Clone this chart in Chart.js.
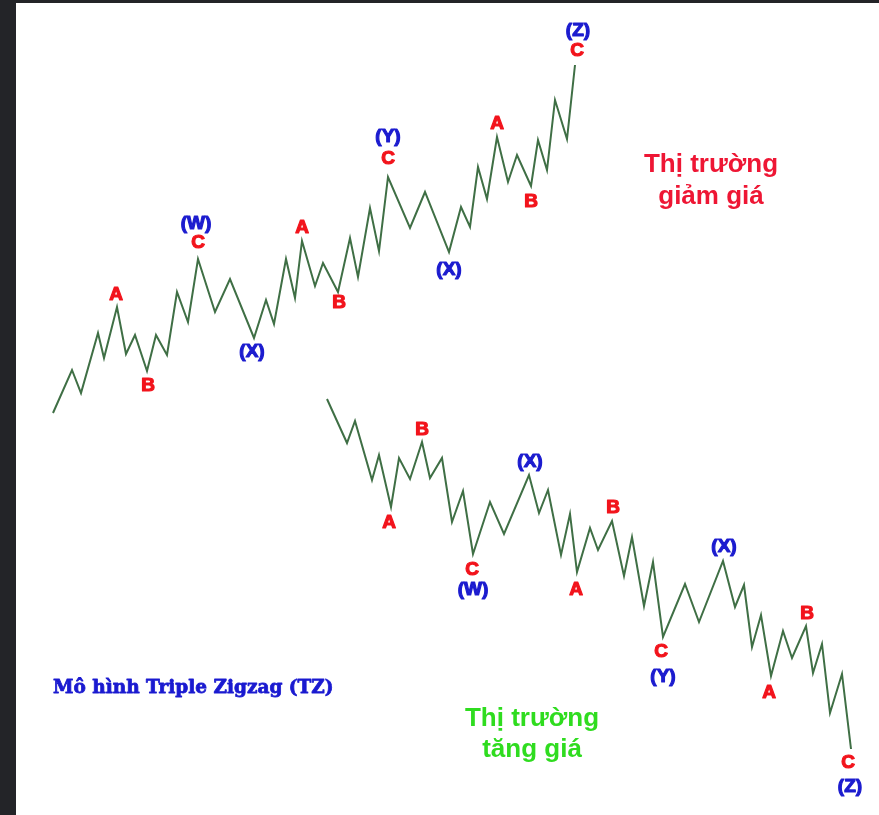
<!DOCTYPE html>
<html>
<head>
<meta charset="utf-8">
<script src="https://cdn.jsdelivr.net/npm/chart.js@4.4.1/dist/chart.umd.min.js"></script>
<style>
  html, body { margin: 0; padding: 0; background: #232428; }
  #wrap { position: absolute; left: 16px; top: 3px; width: 863px; height: 812px; background: #fff; }
</style>
</head>
<body>
<div id="wrap"><canvas id="wave-chart"></canvas></div>
<script>
// upper wave (bear market triple zigzag), x = time, y = price level
var upperX = [53,72,81,98,104,117,126,135,147,156,167,177,188,198,215,230,254,266,274,286,295,302,315,323,338,350,358,370,379,388,410,425,449,461,470,478,487,497,508,517,531,538,547,555,567,575];
var upperPrice = [402,445,422,482,457,508,461,480,444,480,460,523,493,556,503,536,477,515,491,556,517,574,529,552,523,577,538,607,564,638,587,623,563,608,588,648,616,678,633,660,629,675,645,715,676,750];

// lower wave (bull market triple zigzag)
var lowerX = [327,347,355,372,379,391,399,410,422,430,442,452,463,473,490,504,529,539,548,561,570,577,590,598,612,624,632,644,653,663,685,699,723,735,744,752,761,771,783,792,806,813,822,830,842,851];
var lowerPrice = [416,372,394,335,360,308,357,336,373,337,357,293,324,261,313,281,340,302,325,260,301,243,287,265,294,239,278,209,253,178,231,193,254,208,230,168,200,139,184,157,189,142,171,102,141,66];

// wave labels
var labelText = ["A","B","(W)","C","(X)","A","B","(Y)","C","(X)","A","B","(Z)","C",
                 "B","A","(X)","C","(W)","B","A","C","(Y)","(X)","B","A","C","(Z)"];
var labelX = [116,148,196,198,252,302,339,388,388,449,497,531,578,577,
              422,389,530,472,473,613,576,661,663,724,807,769,848,850];
var labelY = [520,429,591,572,463,587,512,678,656,545,691,613,784,764,
              385,292,353,245,225,307,225,163,138,268,201,122,52,28];

function toPoints(xs, ys) {
  return xs.map(function (x, i) { return {x: x, y: ys[i]}; });
}

var textPlugin = {
  id: 'waveText',
  afterDatasetsDraw: function (chart) {
    var ctx = chart.ctx, sx = chart.scales.x, sy = chart.scales.y;
    ctx.save();
    ctx.textAlign = 'center';
    ctx.textBaseline = 'middle';
    ctx.lineJoin = 'round';
    ctx.font = 'bold 19px "Liberation Sans", Arial, sans-serif';
    ctx.lineWidth = 1.2;
    labelText.forEach(function (t, i) {
      var c = t.charAt(0) === '(' ? '#1c1ccf' : '#f2141c';
      var px = sx.getPixelForValue(labelX[i]), py = sy.getPixelForValue(labelY[i]);
      ctx.fillStyle = c;
      ctx.strokeStyle = c;
      ctx.fillText(t, px, py);
      ctx.strokeText(t, px, py);
    });

    ctx.font = 'bold 26px "Liberation Sans", Arial, sans-serif';
    ctx.fillStyle = '#ee1634';
    ctx.fillText('Thị trường', sx.getPixelForValue(711), sy.getPixelForValue(650));
    ctx.fillText('giảm giá', sx.getPixelForValue(711), sy.getPixelForValue(618));

    ctx.fillStyle = '#2fdc1f';
    ctx.fillText('Thị trường', sx.getPixelForValue(532), sy.getPixelForValue(96));
    ctx.fillText('tăng giá', sx.getPixelForValue(532), sy.getPixelForValue(65));

    ctx.textAlign = 'left';
    ctx.font = 'bold 18.5px "DejaVu Serif", serif';
    ctx.fillStyle = '#1a1ad0';
    ctx.strokeStyle = '#1a1ad0';
    ctx.lineWidth = 0.8;
    ctx.fillText('Mô hình Triple Zigzag (TZ)', sx.getPixelForValue(53), sy.getPixelForValue(127));
    ctx.strokeText('Mô hình Triple Zigzag (TZ)', sx.getPixelForValue(53), sy.getPixelForValue(127));
    ctx.restore();
  }
};

new Chart(document.getElementById('wave-chart'), {
  type: 'scatter',
  data: {
    datasets: [
      {
        label: 'Upper',
        data: toPoints(upperX, upperPrice),
        showLine: true,
        borderColor: '#3f6f45',
        borderWidth: 2,
        pointRadius: 0,
        tension: 0
      },
      {
        label: 'Lower',
        data: toPoints(lowerX, lowerPrice),
        showLine: true,
        borderColor: '#3f6f45',
        borderWidth: 2,
        pointRadius: 0,
        tension: 0
      }
    ]
  },
  options: {
    responsive: true,
    maintainAspectRatio: false,
    animation: false,
    layout: { padding: 0 },
    scales: {
      x: { type: 'linear', min: 16, max: 879, display: false },
      y: { type: 'linear', min: 0, max: 812, display: false }
    },
    plugins: {
      legend: { display: false },
      tooltip: { enabled: false }
    }
  },
  plugins: [textPlugin]
});
</script>
</body>
</html>
